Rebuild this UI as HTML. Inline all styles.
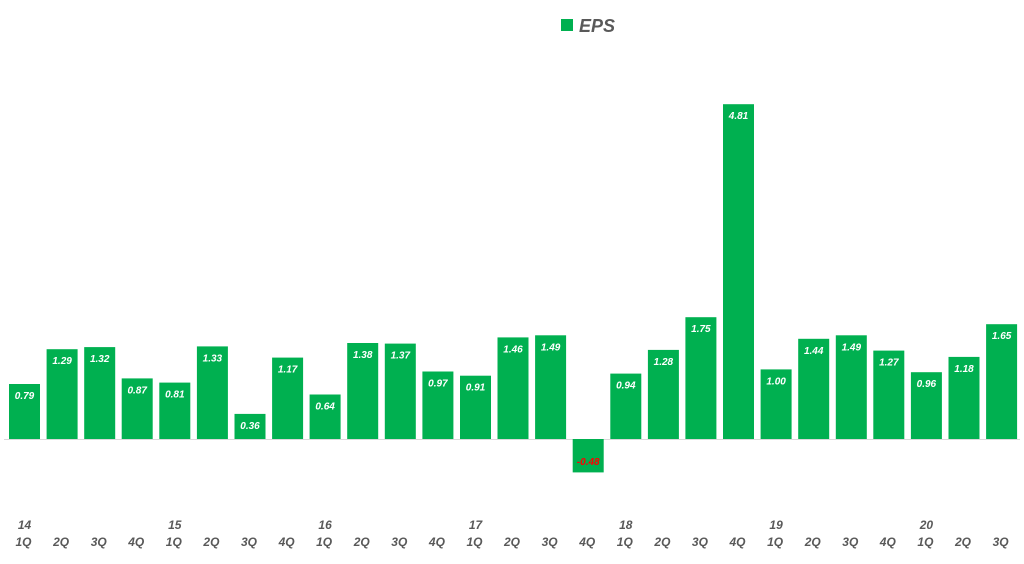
<!DOCTYPE html>
<html><head><style>
body{margin:0;background:#fff;}
svg text{font-family:"Liberation Sans",sans-serif;font-style:italic;font-weight:bold;}
</style></head><body>
<svg width="1024" height="559" xmlns="http://www.w3.org/2000/svg">
<rect x="561" y="19" width="12" height="12" fill="#00b050"/>
<text x="579" y="32" font-size="18" fill="#595959">EPS</text>
<line x1="4" y1="439.5" x2="1020" y2="439.5" stroke="#d9d9d9" stroke-width="1"/>
<g id="bars"></g>
</svg>
<script>
var v=[0.79,1.29,1.32,0.87,0.81,1.33,0.36,1.17,0.64,1.38,1.37,0.97,0.91,1.46,1.49,-0.48,0.94,1.28,1.75,4.81,1.00,1.44,1.49,1.27,0.96,1.18,1.65];
var q=["1Q","2Q","3Q","4Q"],yr={0:"14",4:"15",8:"16",12:"17",16:"18",20:"19",24:"20"};
var g=document.getElementById("bars"),h="";
var base=439,s=69.6;
for(var i=0;i<v.length;i++){
 var x=9+i*37.58,w=31,c=x+w/2,val=v[i],hgt=Math.abs(val)*s;
 var y=val>=0?base-hgt:base;
 h+='<rect x="'+x.toFixed(1)+'" y="'+y.toFixed(1)+'" width="'+w+'" height="'+hgt.toFixed(1)+'" fill="#00b050"/>';
 var ty=val>=0?y+15:base+26;
 h+='<text x="'+c.toFixed(1)+'" y="'+ty.toFixed(1)+'" font-size="10" text-anchor="middle" fill="'+(val>=0?'#fff':'#ff0000')+'">'+val.toFixed(2)+'</text>';
 if(yr[i])h+='<text x="'+(c).toFixed(1)+'" y="529" font-size="12" text-anchor="middle" fill="#595959">'+yr[i]+'</text>';
 h+='<text x="'+(c-1).toFixed(1)+'" y="546" font-size="12" text-anchor="middle" fill="#595959">'+q[i%4]+'</text>';
}
g.innerHTML=h;
</script>
</body></html>
